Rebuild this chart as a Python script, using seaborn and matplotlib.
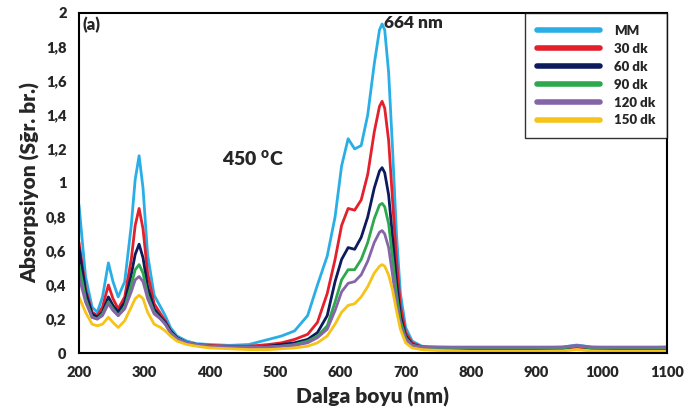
import matplotlib
matplotlib.use("Agg")
import matplotlib.pyplot as plt
import seaborn as sns
import pandas as pd
from matplotlib.lines import Line2D
from matplotlib.ticker import FuncFormatter

# Wavelength grid (nm) and absorbance
wavelength = [200, 210, 220, 228, 236, 245, 252, 260, 270, 280, 286, 292, 298, 305, 315,
              325, 332, 340, 350, 365, 380, 400, 430, 460, 490, 510, 530, 550, 565, 580,
              592, 602, 612, 622, 632, 642, 652, 660, 664, 668, 674, 680, 686, 692, 700,
              710, 725, 750, 800, 850, 900, 940, 962, 985, 1020, 1060, 1100]

mm = [0.87, 0.45, 0.27, 0.24, 0.33, 0.53, 0.42, 0.33, 0.42, 0.75, 1.02, 1.16, 0.97, 0.58, 0.34,
      0.27, 0.22, 0.15, 0.10, 0.07, 0.055, 0.05, 0.045, 0.05, 0.08, 0.10, 0.13, 0.22, 0.40, 0.57,
      0.80, 1.10, 1.26, 1.20, 1.22, 1.40, 1.70, 1.90, 1.935, 1.90, 1.65, 1.20, 0.70, 0.35, 0.15,
      0.07, 0.04, 0.035, 0.03, 0.03, 0.03, 0.035, 0.047, 0.035, 0.03, 0.03, 0.035]
dk30 = [0.65, 0.38, 0.24, 0.22, 0.27, 0.40, 0.32, 0.26, 0.33, 0.55, 0.75, 0.85, 0.73, 0.47, 0.29,
        0.23, 0.19, 0.13, 0.09, 0.06, 0.05, 0.045, 0.04, 0.04, 0.05, 0.06, 0.08, 0.11, 0.18, 0.35,
        0.55, 0.75, 0.85, 0.84, 0.90, 1.05, 1.30, 1.45, 1.48, 1.44, 1.25, 0.90, 0.55, 0.28, 0.12,
        0.06, 0.035, 0.03, 0.025, 0.025, 0.025, 0.025, 0.035, 0.025, 0.02, 0.02, 0.02]
dk60 = [0.62, 0.36, 0.23, 0.21, 0.24, 0.33, 0.28, 0.24, 0.30, 0.46, 0.58, 0.64, 0.56, 0.39, 0.26,
        0.21, 0.18, 0.13, 0.09, 0.06, 0.05, 0.04, 0.035, 0.035, 0.04, 0.05, 0.06, 0.08, 0.12, 0.22,
        0.42, 0.55, 0.62, 0.61, 0.68, 0.80, 0.97, 1.07, 1.09, 1.06, 0.93, 0.68, 0.42, 0.22, 0.10,
        0.05, 0.035, 0.03, 0.03, 0.03, 0.03, 0.03, 0.04, 0.03, 0.03, 0.03, 0.03]
dk90 = [0.52, 0.32, 0.21, 0.20, 0.23, 0.30, 0.26, 0.22, 0.27, 0.40, 0.49, 0.52, 0.47, 0.34, 0.24,
        0.20, 0.17, 0.12, 0.085, 0.06, 0.05, 0.04, 0.035, 0.035, 0.035, 0.04, 0.05, 0.07, 0.10, 0.16,
        0.30, 0.43, 0.49, 0.49, 0.55, 0.65, 0.79, 0.87, 0.88, 0.86, 0.76, 0.56, 0.35, 0.19, 0.09,
        0.045, 0.035, 0.03, 0.03, 0.03, 0.03, 0.03, 0.04, 0.03, 0.03, 0.03, 0.03]
dk120 = [0.45, 0.30, 0.21, 0.20, 0.22, 0.29, 0.25, 0.22, 0.26, 0.36, 0.43, 0.45, 0.42, 0.32, 0.23,
         0.20, 0.17, 0.12, 0.085, 0.06, 0.05, 0.04, 0.035, 0.035, 0.035, 0.04, 0.045, 0.06, 0.09, 0.14,
         0.25, 0.36, 0.41, 0.42, 0.46, 0.54, 0.65, 0.71, 0.72, 0.70, 0.62, 0.46, 0.29, 0.16, 0.08,
         0.045, 0.035, 0.035, 0.035, 0.035, 0.035, 0.035, 0.045, 0.035, 0.035, 0.035, 0.035]
dk150 = [0.33, 0.24, 0.17, 0.16, 0.17, 0.21, 0.18, 0.15, 0.19, 0.27, 0.32, 0.34, 0.32, 0.24, 0.17,
         0.15, 0.13, 0.10, 0.07, 0.05, 0.04, 0.03, 0.025, 0.02, 0.02, 0.025, 0.03, 0.04, 0.06, 0.10,
         0.17, 0.24, 0.28, 0.29, 0.33, 0.39, 0.47, 0.51, 0.52, 0.51, 0.46, 0.37, 0.25, 0.14, 0.06,
         0.03, 0.02, 0.015, 0.01, 0.01, 0.01, 0.012, 0.02, 0.012, 0.01, 0.01, 0.01]

labels = ['MM', '30 dk', '60 dk', '90 dk', '120 dk', '150 dk']
colors = ['#29aee6', '#e3202b', '#0d1a5c', '#2da84c', '#8565a8', '#f6c319']
series = [mm, dk30, dk60, dk90, dk120, dk150]

rows = []
for lab, vals in zip(labels, series):
    for w, v in zip(wavelength, vals):
        rows.append({'wl': w, 'abs': v, 'sample': lab})
df = pd.DataFrame(rows)

sns.set_style("white")
plt.rcParams['font.family'] = ['Lato', 'DejaVu Sans']
plt.rcParams['font.weight'] = 'heavy'
plt.rcParams['mathtext.fontset'] = 'custom'
plt.rcParams['mathtext.rm'] = 'Lato:heavy'
plt.rcParams['mathtext.bf'] = 'Lato:heavy'

fig = plt.figure(figsize=(6.84, 4.16), dpi=100)
ax = fig.add_axes([0.1155, 0.1514, 0.8595, 0.8176])

sns.lineplot(data=df, x='wl', y='abs', hue='sample', hue_order=labels,
             palette=colors, linewidth=2.0, ax=ax, legend=False, sort=False)

ax.set_xlim(200, 1100)
ax.set_ylim(0, 2)
ax.set_xticks(range(200, 1101, 100))
ax.set_yticks([0, 0.2, 0.4, 0.6, 0.8, 1.0, 1.2, 1.4, 1.6, 1.8, 2.0])
ax.yaxis.set_major_formatter(FuncFormatter(lambda v, p: ('%g' % round(v, 1)).replace('.', ',')))
ax.tick_params(axis='both', direction='out', length=5, width=1.5, color='black',
               labelsize=10.5, pad=4)
for lbl in ax.get_xticklabels() + ax.get_yticklabels():
    lbl.set_fontweight('heavy')
for sp in ax.spines.values():
    sp.set_color('black')
    sp.set_linewidth(1.5)

ax.set_xlabel('Dalga boyu (nm)', fontsize=15, fontweight='heavy', labelpad=6)
ax.set_ylabel('Absorpsiyon (Sğr. br.)', fontsize=15, fontweight='heavy', labelpad=4)

ax.text(0.006, 0.988, '(a)', transform=ax.transAxes, fontsize=12, fontweight='heavy',
        va='top', ha='left')
ax.text(667, 1.985, '664 nm', fontsize=12.5, fontweight='heavy', va='top', ha='left')
ax.text(419, 1.14, r'450 $^{\mathrm{o}}$C', fontsize=14, fontweight='heavy',
        va='center', ha='left')

handles = [Line2D([0], [0], color=c, lw=4) for c in colors]
leg = ax.legend(handles, labels, loc='upper right', bbox_to_anchor=(1.0, 1.0),
                frameon=True, fancybox=False, edgecolor='black', fontsize=9.5,
                handlelength=4.8, handletextpad=1.0, labelspacing=0.45,
                borderpad=0.9, borderaxespad=0.0)
leg.get_frame().set_linewidth(1.0)
for t in leg.get_texts():
    t.set_fontweight('heavy')

fig.savefig('out.png', dpi=100)
